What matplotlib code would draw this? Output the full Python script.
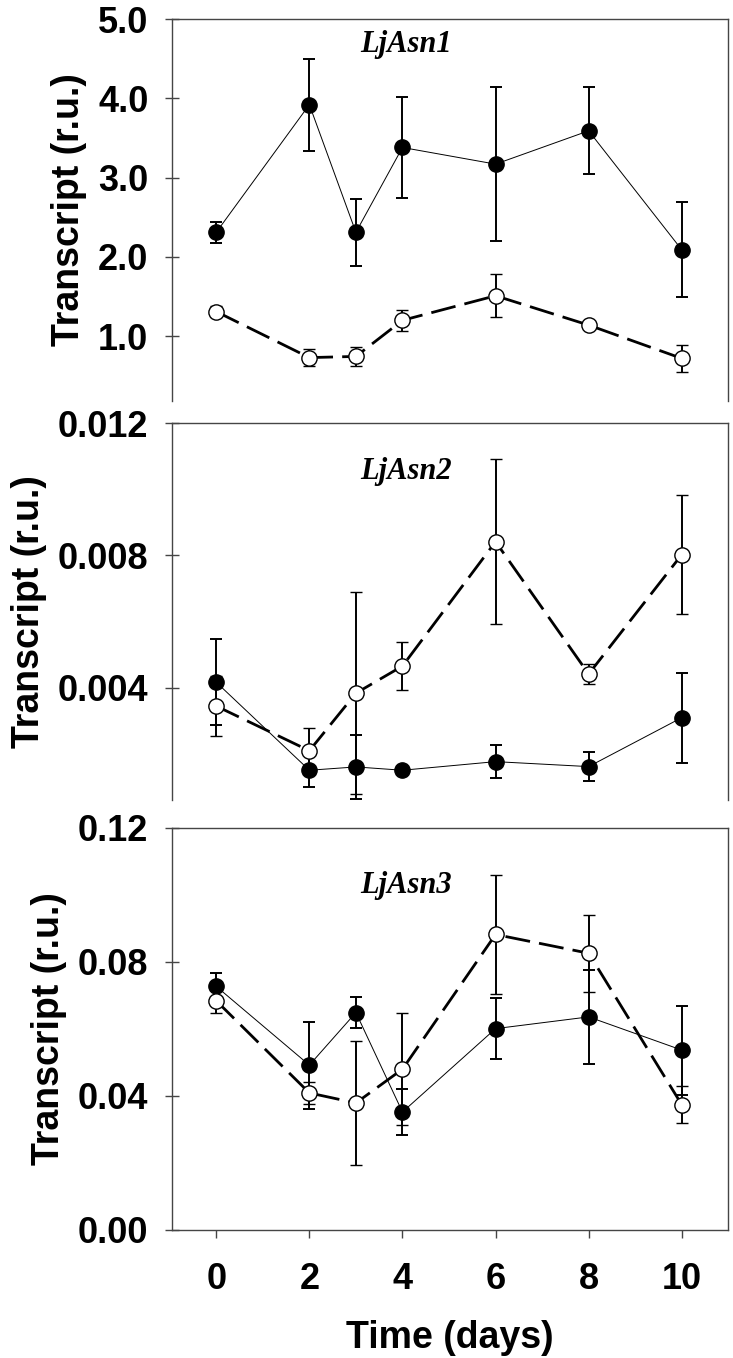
import matplotlib
matplotlib.use('Agg')
import matplotlib.pyplot as plt

days = [0, 2, 3, 4, 6, 8, 10]
genes = ['LjAsn1', 'LjAsn2', 'LjAsn3']

# filled circles (solid line) and open circles (dashed line)
asn1_filled = [2.31, 3.92, 2.31, 3.38, 3.17, 3.59, 2.09]
asn1_filled_err = [0.13, 0.58, 0.42, 0.64, 0.97, 0.55, 0.60]
asn1_open = [1.31, 0.73, 0.745, 1.20, 1.51, 1.14, 0.72]
asn1_open_err = [0.07, 0.11, 0.12, 0.13, 0.27, 0.03, 0.17]

asn2_filled = [0.00416, 0.00150, 0.00160, 0.00150, 0.00176, 0.00161, 0.00309]
asn2_filled_err = [0.0013, 0.00052, 0.00097, 0.0001, 0.0005, 0.00044, 0.00136]
asn2_open = [0.00344, 0.00209, 0.00383, 0.00465, 0.00841, 0.00441, 0.00802]
asn2_open_err = [0.00091, 0.0007, 0.00306, 0.00072, 0.0025, 0.0003, 0.0018]

asn3_filled = [0.0727, 0.0492, 0.0649, 0.0352, 0.0601, 0.0636, 0.0537]
asn3_filled_err = [0.004, 0.013, 0.0047, 0.007, 0.0092, 0.014, 0.0133]
asn3_open = [0.0684, 0.0409, 0.0379, 0.0480, 0.0882, 0.0826, 0.0374]
asn3_open_err = [0.0035, 0.0033, 0.0184, 0.0168, 0.0177, 0.0115, 0.0056]

yticks = [[1.0, 2.0, 3.0, 4.0, 5.0], [0.004, 0.008, 0.012], [0.00, 0.04, 0.08, 0.12]]
yfmt = ['%.1f', '%.3f', '%.2f']
ylims = [(0.186, 5.0), (0.0006, 0.012), (0.0, 0.12)]
xticks = [0, 2, 4, 6, 8, 10]

plt.rcParams['font.family'] = ['Liberation Sans', 'DejaVu Sans']

fig = plt.figure(figsize=(7.33, 13.58), dpi=100)
left, width = 0.2347, 0.9936 - 0.2347
boxes = [(0.7049, 0.9860), (0.4109, 0.6885), (0.0943, 0.3903)]
title_y = [0.914, 0.851, 0.837]

data = [(asn1_filled, asn1_filled_err, asn1_open, asn1_open_err),
        (asn2_filled, asn2_filled_err, asn2_open, asn2_open_err),
        (asn3_filled, asn3_filled_err, asn3_open, asn3_open_err)]

spine_col = '#454545'
for i, (b, t) in enumerate(boxes):
    ax = fig.add_axes([left, b, width, t - b])
    f, fe, o, oe = data[i]
    ax.errorbar(days, f, yerr=fe, color='black', lw=0.7, ecolor='black',
                elinewidth=1.4, capsize=4.5, capthick=1.4, marker='o', ms=11,
                mfc='black', mec='black', zorder=3)
    ax.errorbar(days, o, yerr=oe, color='black', lw=2.0, ls=(0, (9, 3.3)),
                ecolor='black', elinewidth=1.4, capsize=4.5, capthick=1.4,
                marker='o', ms=11, mfc='white', mec='black', mew=1.0, zorder=4)
    ax.set_xlim(-0.95, 11.0)
    ax.set_ylim(*ylims[i])
    ax.set_yticks(yticks[i])
    ax.set_yticklabels([yfmt[i] % v for v in yticks[i]], fontsize=26, fontweight='bold')
    ax.tick_params(axis='y', direction='inout', length=10, width=1, color=spine_col, pad=12)
    for s in ax.spines.values():
        s.set_color(spine_col)
        s.set_linewidth(1.0)
    if i < 2:
        ax.spines['bottom'].set_visible(False)
        ax.set_xticks([])
    else:
        ax.set_xticks(xticks)
        ax.set_xticklabels([str(v) for v in xticks], fontsize=26, fontweight='bold')
        ax.tick_params(axis='x', direction='out', length=6, width=1, color=spine_col, pad=17)
        ax.set_xlabel('Time (days)', fontsize=27, fontweight='bold', labelpad=17)
    ax.set_ylabel('Transcript (r.u.)', fontsize=27, fontweight='bold', labelpad=8)
    ax.text(0.42, title_y[i], genes[i], transform=ax.transAxes, ha='center', va='baseline',
            fontsize=22, fontweight='bold', fontstyle='italic', family='Liberation Serif')

fig.savefig('out.png', dpi=100)
